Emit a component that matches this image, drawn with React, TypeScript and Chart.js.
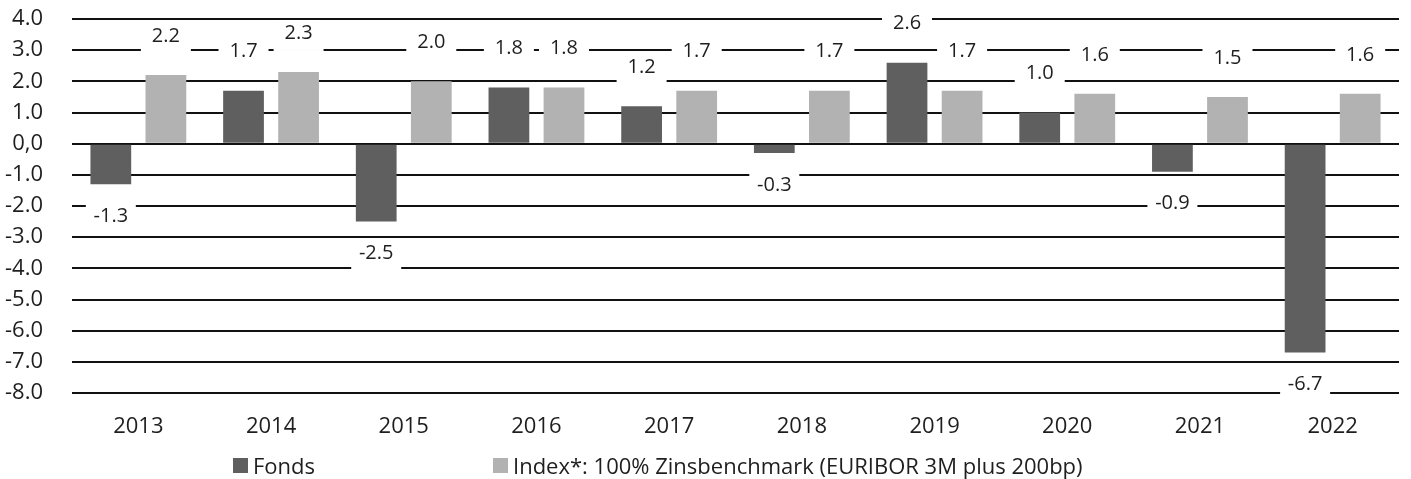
import React, { useEffect, useRef } from "react";
import { Chart, registerables } from "chart.js";

Chart.register(...registerables);

const categories = ["2013", "2014", "2015", "2016", "2017", "2018", "2019", "2020", "2021", "2022"];
const fondsValues = [-1.3, 1.7, -2.5, 1.8, 1.2, -0.3, 2.6, 1.0, -0.9, -6.7];
const indexValues = [2.2, 2.3, 2.0, 1.8, 1.7, 1.7, 1.7, 1.6, 1.5, 1.6];
const seriesNames = ["Fonds", "Index*: 100% Zinsbenchmark (EURIBOR 3M plus 200bp)"];
const seriesColors = ["#5f5f5f", "#b2b2b2"];
const yMin = -8;
const yMax = 4;

const FONT = '"Open Sans", "Noto Sans", sans-serif';
const TEXT = "#1e1e1e";

const labelPlugin = {
  id: "boxedLabels",
  afterDatasetsDraw(chart: any) {
    const ctx = chart.ctx;
    ctx.save();
    chart.data.datasets.forEach((ds: any, i: number) => {
      const meta = chart.getDatasetMeta(i);
      meta.data.forEach((bar: any, j: number) => {
        const v = ds.data[j] as number;
        const cx = bar.x;
        const cy = v >= 0 ? bar.y - 40 : bar.y + 31;
        ctx.fillStyle = "#ffffff";
        ctx.fillRect(cx - 25, cy - 12, 50, 31);
        ctx.fillStyle = TEXT;
        ctx.font = `20px ${FONT}`;
        ctx.textAlign = "center";
        ctx.textBaseline = "middle";
        ctx.fillText(v.toFixed(1), cx, cy + 1);
      });
    });
    ctx.restore();
  },
};

export default function App() {
  const ref = useRef<HTMLCanvasElement | null>(null);

  useEffect(() => {
    document.body.style.margin = "0";
    const canvas = ref.current;
    if (!canvas) return;
    const chart = new Chart(canvas, {
      type: "bar",
      data: {
        labels: categories,
        datasets: [
          {
            label: seriesNames[0],
            data: fondsValues,
            backgroundColor: seriesColors[0],
            categoryPercentage: 0.83,
            barPercentage: 0.74,
          },
          {
            label: seriesNames[1],
            data: indexValues,
            backgroundColor: seriesColors[1],
            categoryPercentage: 0.83,
            barPercentage: 0.74,
          },
        ],
      },
      options: {
        responsive: false,
        animation: false,
        devicePixelRatio: 1,
        layout: { autoPadding: false, padding: { top: 19, right: 12, bottom: 39, left: 0 } },
        plugins: {
          legend: { display: false },
          title: { display: false },
          tooltip: { enabled: false },
        },
        scales: {
          x: {
            grid: { display: false, drawTicks: false },
            border: { display: false },
            ticks: {
              color: TEXT,
              font: { family: FONT, size: 22 },
              padding: 21,
            },
            afterFit: (scale: any) => {
              scale.height = 47;
            },
          },
          y: {
            min: yMin,
            max: yMax,
            grid: { color: "#111111", lineWidth: 2, drawTicks: false },
            border: { display: false },
            ticks: {
              stepSize: 1,
              autoSkip: false,
              color: TEXT,
              font: { family: FONT, size: 22 },
              padding: 29,
              callback: (v: any) => (Number(v) === 0 ? "0,0" : Number(v).toFixed(1)),
            },
            afterFit: (scale: any) => {
              scale.width = 72;
              scale.paddingTop = 0;
              scale.paddingBottom = 0;
            },
          },
        },
      },
      plugins: [labelPlugin],
    });
    return () => chart.destroy();
  }, []);

  const legendItem = (left: number, color: string, text: string) => (
    <div
      style={{
        position: "absolute",
        left,
        top: 452,
        height: 26,
        display: "flex",
        alignItems: "center",
        fontFamily: FONT,
        fontSize: 22,
        color: TEXT,
        whiteSpace: "nowrap",
      }}
    >
      <span style={{ width: 15, height: 15, background: color, marginRight: 5, display: "inline-block" }} />
      <span>{text}</span>
    </div>
  );

  return (
    <div style={{ position: "relative", width: 1411, height: 479 }}>
      <canvas ref={ref} width={1411} height={479} />
      {legendItem(233, seriesColors[0], seriesNames[0])}
      {legendItem(493, seriesColors[1], seriesNames[1])}
    </div>
  );
}
